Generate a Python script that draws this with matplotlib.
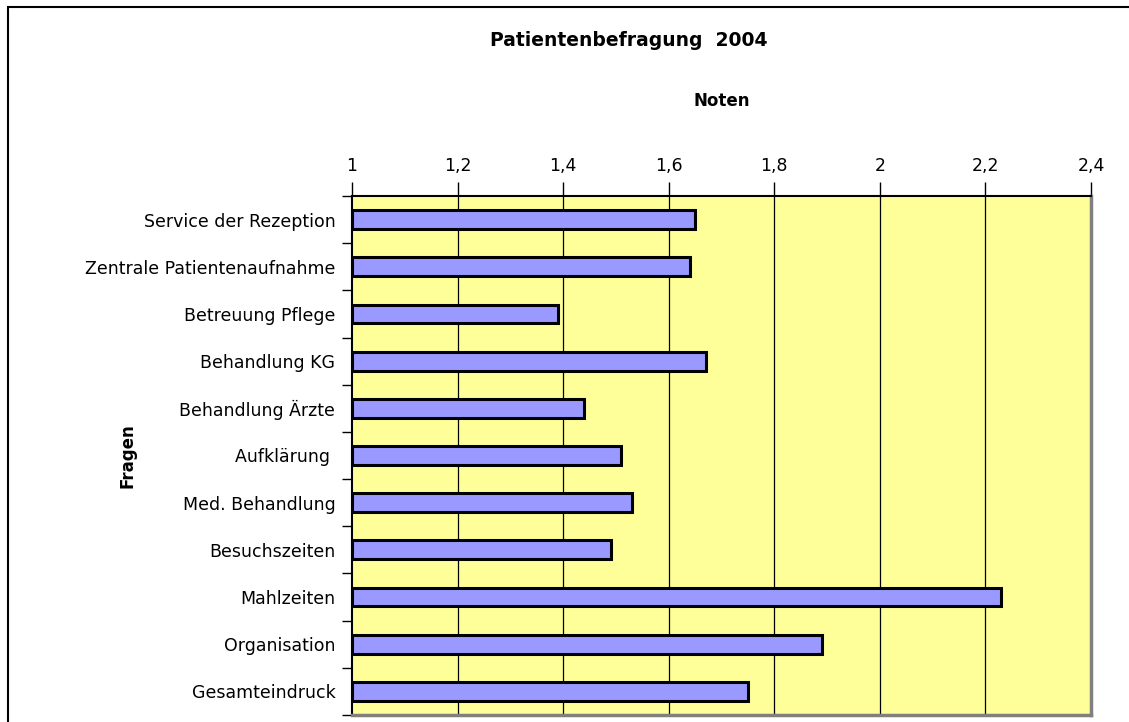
import matplotlib.pyplot as plt
import numpy as np
from matplotlib.patches import Rectangle
from matplotlib.ticker import FuncFormatter

fragen = [
    "Service der Rezeption",
    "Zentrale Patientenaufnahme",
    "Betreuung Pflege",
    "Behandlung KG",
    "Behandlung Ärzte",
    "Aufklärung ",
    "Med. Behandlung",
    "Besuchszeiten",
    "Mahlzeiten",
    "Organisation",
    "Gesamteindruck",
]
noten = [1.65, 1.64, 1.39, 1.67, 1.44, 1.51, 1.53, 1.49, 2.23, 1.89, 1.75]
xticks = [1, 1.2, 1.4, 1.6, 1.8, 2, 2.2, 2.4]

plt.rcParams['font.family'] = ['DejaVu Sans']

fig = plt.figure(figsize=(11.29, 7.22), dpi=100)
ax = fig.add_axes([352 / 1129, 1 - 715 / 722, (1091 - 352) / 1129, (715 - 196) / 722])
ax.set_facecolor('#FFFF99')

y = np.arange(len(fragen))[::-1]
# bars start at 1 (axis origin)
ax.barh(y, np.array(noten) - 1, left=1, height=0.4, color='#9999FF',
        edgecolor='black', linewidth=2.2, zorder=3)

ax.set_xlim(1, 2.4)
ax.set_ylim(-0.5, len(fragen) - 0.5)
ax.xaxis.tick_top()
ax.xaxis.set_label_position('top')
ax.set_xticks(xticks)
ax.xaxis.set_major_formatter(FuncFormatter(lambda v, p: ('%g' % round(v, 1)).replace('.', ',')))
ax.tick_params(axis='x', direction='out', length=10, width=1, pad=5, labelsize=12.5)
for xv in xticks[1:-1]:
    ax.axvline(xv, color='black', linewidth=0.9, zorder=1)

ax.set_yticks(y)
ax.set_yticklabels(fragen, fontsize=12.5)
ax.tick_params(axis='y', which='major', length=0, pad=12)
ax.set_yticks(np.arange(-0.5, len(fragen), 1), minor=True)
ax.tick_params(axis='y', which='minor', direction='out', length=7, width=1)

ax.set_xlabel('Noten', fontsize=12, fontweight='bold', labelpad=37)
ax.set_ylabel('Fragen', fontsize=12, fontweight='bold', labelpad=0)
ax.yaxis.set_label_coords(-215 / 739, 0.5)

ax.spines['top'].set_color('black')
ax.spines['top'].set_linewidth(1.5)
ax.spines['left'].set_color('black')
ax.spines['left'].set_linewidth(1.5)
ax.spines['right'].set_color('#808080')
ax.spines['right'].set_linewidth(2.5)
ax.spines['bottom'].set_color('#808080')
ax.spines['bottom'].set_linewidth(2.5)

fig.text(629 / 1129, 1 - 40 / 722, 'Patientenbefragung  2004', ha='center', va='center',
         fontsize=13.5, fontweight='bold')

# outer chart frame (right and bottom edges fall outside the image)
fig.patches.append(Rectangle((8 / 1129, -0.1), 1.0, 1.1 - 7 / 722, transform=fig.transFigure,
                             fill=False, edgecolor='black', linewidth=1.5))

fig.savefig('out.png', dpi=100)
